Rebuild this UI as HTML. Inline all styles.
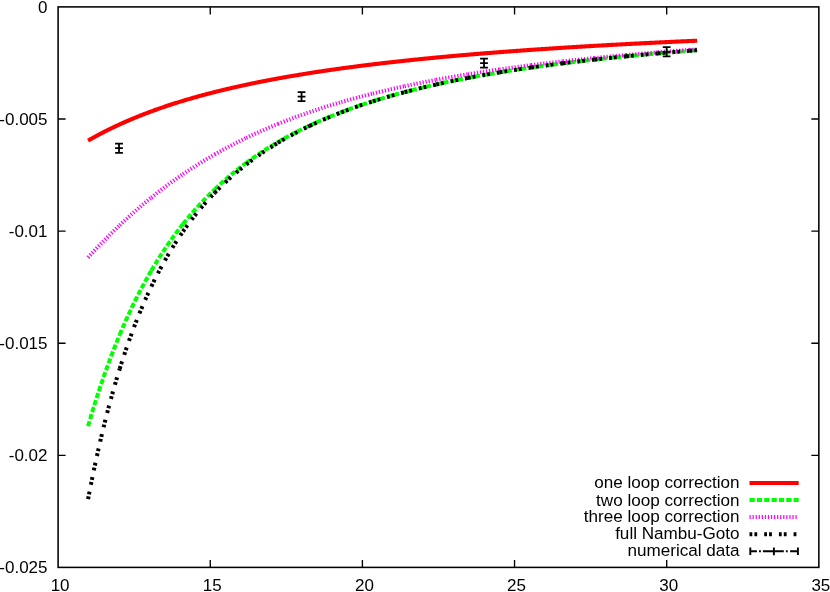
<!DOCTYPE html>
<html><head><meta charset="utf-8"><title>plot</title>
<style>html,body{margin:0;padding:0;background:#fff}svg{display:block}</style></head>
<body><svg width="830" height="592" viewBox="0 0 830 592">
<rect x="0" y="0" width="830" height="592" fill="#fff"/>
<path d="M88.07 140.63 L88.84 140.19 L89.60 139.76 L90.36 139.32 L91.12 138.89 L91.88 138.46 L92.65 138.04 L93.41 137.61 L94.17 137.19 L94.93 136.77 L95.70 136.36 L96.46 135.94 L97.22 135.53 L97.98 135.12 L98.75 134.72 L99.51 134.31 L100.27 133.91 L101.03 133.51 L101.79 133.11 L102.56 132.72 L103.32 132.32 L104.08 131.93 L104.84 131.54 L105.61 131.16 L106.37 130.77 L107.13 130.39 L107.89 130.01 L108.65 129.63 L109.42 129.26 L110.18 128.88 L110.94 128.51 L111.70 128.14 L112.47 127.77 L113.23 127.41 L113.99 127.05 L114.75 126.68 L115.52 126.32 L116.28 125.97 L117.04 125.61 L117.80 125.26 L118.56 124.91 L119.33 124.56 L120.09 124.21 L120.85 123.86 L121.61 123.52 L122.38 123.18 L123.14 122.83 L123.90 122.50 L124.66 122.16 L125.42 121.82 L126.19 121.49 L126.95 121.16 L127.71 120.83 L128.47 120.50 L129.24 120.17 L130.00 119.85 L130.76 119.53 L131.52 119.21 L132.29 118.89 L133.05 118.57 L133.81 118.25 L134.57 117.94 L135.33 117.62 L136.10 117.31 L136.86 117.00 L137.62 116.69 L138.38 116.39 L139.15 116.08 L139.91 115.78 L140.67 115.48 L141.43 115.18 L142.19 114.88 L142.96 114.58 L143.72 114.28 L144.48 113.99 L145.24 113.70 L146.01 113.40 L146.77 113.11 L147.53 112.83 L148.29 112.54 L149.06 112.25 L149.82 111.97 L150.58 111.68 L151.34 111.40 L152.10 111.12 L152.87 110.84 L153.63 110.57 L154.39 110.29 L155.15 110.02 L155.92 109.74 L156.68 109.47 L157.44 109.20 L158.20 108.93 L158.96 108.66 L159.73 108.40 L160.49 108.13 L161.25 107.87 L162.01 107.60 L162.78 107.34 L163.54 107.08 L164.30 106.82 L165.06 106.56 L165.83 106.31 L166.59 106.05 L167.35 105.80 L168.11 105.54 L168.87 105.29 L169.64 105.04 L170.40 104.79 L171.16 104.54 L171.92 104.29 L172.69 104.05 L173.45 103.80 L174.21 103.56 L174.97 103.32 L175.73 103.07 L176.50 102.83 L177.26 102.60 L178.02 102.36 L178.78 102.12 L179.55 101.88 L180.31 101.65 L181.07 101.41 L181.83 101.18 L182.60 100.95 L183.36 100.72 L184.12 100.49 L184.88 100.26 L185.64 100.03 L186.41 99.81 L187.17 99.58 L187.93 99.36 L188.69 99.13 L189.46 98.91 L190.22 98.69 L190.98 98.47 L191.74 98.25 L192.51 98.03 L193.27 97.81 L194.03 97.59 L194.79 97.38 L195.55 97.16 L196.32 96.95 L197.08 96.74 L197.84 96.52 L198.60 96.31 L199.37 96.10 L200.13 95.89 L200.89 95.68 L201.65 95.48 L202.41 95.27 L203.18 95.06 L203.94 94.86 L204.70 94.66 L205.46 94.45 L206.23 94.25 L206.99 94.05 L207.75 93.85 L208.51 93.65 L209.28 93.45 L210.04 93.25 L210.80 93.06 L211.56 92.86 L212.32 92.66 L213.09 92.47 L213.85 92.28 L214.61 92.08 L215.37 91.89 L216.14 91.70 L216.90 91.51 L217.66 91.32 L218.42 91.13 L219.18 90.94 L219.95 90.75 L220.71 90.57 L221.47 90.38 L222.23 90.20 L223.00 90.01 L223.76 89.83 L224.52 89.65 L225.28 89.46 L226.05 89.28 L226.81 89.10 L227.57 88.92 L228.33 88.74 L229.09 88.56 L229.86 88.39 L230.62 88.21 L231.38 88.03 L232.14 87.86 L232.91 87.68 L233.67 87.51 L234.43 87.33 L235.19 87.16 L235.95 86.99 L236.72 86.82 L237.48 86.65 L238.24 86.48 L239.00 86.31 L239.77 86.14 L240.53 85.97 L241.29 85.80 L242.05 85.64 L242.82 85.47 L243.58 85.31 L244.34 85.14 L245.10 84.98 L245.86 84.81 L246.63 84.65 L247.39 84.49 L248.15 84.33 L248.91 84.17 L249.68 84.01 L250.44 83.85 L251.20 83.69 L251.96 83.53 L252.72 83.37 L253.49 83.21 L254.25 83.06 L255.01 82.90 L255.77 82.74 L256.54 82.59 L257.30 82.44 L258.06 82.28 L258.82 82.13 L259.59 81.98 L260.35 81.82 L261.11 81.67 L261.87 81.52 L262.63 81.37 L263.40 81.22 L264.16 81.07 L264.92 80.92 L265.68 80.78 L266.45 80.63 L267.21 80.48 L267.97 80.34 L268.73 80.19 L269.49 80.05 L270.26 79.90 L271.02 79.76 L271.78 79.61 L272.54 79.47 L273.31 79.33 L274.07 79.18 L274.83 79.04 L275.59 78.90 L276.36 78.76 L277.12 78.62 L277.88 78.48 L278.64 78.34 L279.40 78.20 L280.17 78.07 L280.93 77.93 L281.69 77.79 L282.45 77.66 L283.22 77.52 L283.98 77.38 L284.74 77.25 L285.50 77.11 L286.26 76.98 L287.03 76.85 L287.79 76.71 L288.55 76.58 L289.31 76.45 L290.08 76.32 L290.84 76.19 L291.60 76.06 L292.36 75.92 L293.13 75.79 L293.89 75.67 L294.65 75.54 L295.41 75.41 L296.17 75.28 L296.94 75.15 L297.70 75.03 L298.46 74.90 L299.22 74.77 L299.99 74.65 L300.75 74.52 L301.51 74.40 L302.27 74.27 L303.03 74.15 L303.80 74.02 L304.56 73.90 L305.32 73.78 L306.08 73.66 L306.85 73.53 L307.61 73.41 L308.37 73.29 L309.13 73.17 L309.90 73.05 L310.66 72.93 L311.42 72.81 L312.18 72.69 L312.94 72.57 L313.71 72.45 L314.47 72.34 L315.23 72.22 L315.99 72.10 L316.76 71.99 L317.52 71.87 L318.28 71.75 L319.04 71.64 L319.80 71.52 L320.57 71.41 L321.33 71.29 L322.09 71.18 L322.85 71.07 L323.62 70.95 L324.38 70.84 L325.14 70.73 L325.90 70.62 L326.67 70.50 L327.43 70.39 L328.19 70.28 L328.95 70.17 L329.71 70.06 L330.48 69.95 L331.24 69.84 L332.00 69.73 L332.76 69.62 L333.53 69.51 L334.29 69.41 L335.05 69.30 L335.81 69.19 L336.57 69.08 L337.34 68.98 L338.10 68.87 L338.86 68.77 L339.62 68.66 L340.39 68.55 L341.15 68.45 L341.91 68.34 L342.67 68.24 L343.44 68.14 L344.20 68.03 L344.96 67.93 L345.72 67.83 L346.48 67.72 L347.25 67.62 L348.01 67.52 L348.77 67.42 L349.53 67.32 L350.30 67.21 L351.06 67.11 L351.82 67.01 L352.58 66.91 L353.34 66.81 L354.11 66.71 L354.87 66.62 L355.63 66.52 L356.39 66.42 L357.16 66.32 L357.92 66.22 L358.68 66.12 L359.44 66.03 L360.21 65.93 L360.97 65.83 L361.73 65.74 L362.49 65.64 L363.25 65.54 L364.02 65.45 L364.78 65.35 L365.54 65.26 L366.30 65.16 L367.07 65.07 L367.83 64.98 L368.59 64.88 L369.35 64.79 L370.11 64.70 L370.88 64.60 L371.64 64.51 L372.40 64.42 L373.16 64.32 L373.93 64.23 L374.69 64.14 L375.45 64.05 L376.21 63.96 L376.98 63.87 L377.74 63.78 L378.50 63.69 L379.26 63.60 L380.02 63.51 L380.79 63.42 L381.55 63.33 L382.31 63.24 L383.07 63.15 L383.84 63.06 L384.60 62.98 L385.36 62.89 L386.12 62.80 L386.88 62.71 L387.65 62.63 L388.41 62.54 L389.17 62.45 L389.93 62.37 L390.70 62.28 L391.46 62.20 L392.22 62.11 L392.98 62.02 L393.75 61.94 L394.51 61.85 L395.27 61.77 L396.03 61.69 L396.79 61.60 L397.56 61.52 L398.32 61.43 L399.08 61.35 L399.84 61.27 L400.61 61.19 L401.37 61.10 L402.13 61.02 L402.89 60.94 L403.65 60.86 L404.42 60.78 L405.18 60.69 L405.94 60.61 L406.70 60.53 L407.47 60.45 L408.23 60.37 L408.99 60.29 L409.75 60.21 L410.52 60.13 L411.28 60.05 L412.04 59.97 L412.80 59.89 L413.56 59.81 L414.33 59.74 L415.09 59.66 L415.85 59.58 L416.61 59.50 L417.38 59.42 L418.14 59.35 L418.90 59.27 L419.66 59.19 L420.42 59.11 L421.19 59.04 L421.95 58.96 L422.71 58.89 L423.47 58.81 L424.24 58.73 L425.00 58.66 L425.76 58.58 L426.52 58.51 L427.29 58.43 L428.05 58.36 L428.81 58.28 L429.57 58.21 L430.33 58.13 L431.10 58.06 L431.86 57.99 L432.62 57.91 L433.38 57.84 L434.15 57.77 L434.91 57.69 L435.67 57.62 L436.43 57.55 L437.19 57.48 L437.96 57.40 L438.72 57.33 L439.48 57.26 L440.24 57.19 L441.01 57.12 L441.77 57.05 L442.53 56.97 L443.29 56.90 L444.06 56.83 L444.82 56.76 L445.58 56.69 L446.34 56.62 L447.10 56.55 L447.87 56.48 L448.63 56.41 L449.39 56.34 L450.15 56.28 L450.92 56.21 L451.68 56.14 L452.44 56.07 L453.20 56.00 L453.96 55.93 L454.73 55.86 L455.49 55.80 L456.25 55.73 L457.01 55.66 L457.78 55.59 L458.54 55.53 L459.30 55.46 L460.06 55.39 L460.83 55.33 L461.59 55.26 L462.35 55.19 L463.11 55.13 L463.87 55.06 L464.64 55.00 L465.40 54.93 L466.16 54.86 L466.92 54.80 L467.69 54.73 L468.45 54.67 L469.21 54.61 L469.97 54.54 L470.73 54.48 L471.50 54.41 L472.26 54.35 L473.02 54.28 L473.78 54.22 L474.55 54.16 L475.31 54.09 L476.07 54.03 L476.83 53.97 L477.60 53.90 L478.36 53.84 L479.12 53.78 L479.88 53.72 L480.64 53.65 L481.41 53.59 L482.17 53.53 L482.93 53.47 L483.69 53.41 L484.46 53.34 L485.22 53.28 L485.98 53.22 L486.74 53.16 L487.50 53.10 L488.27 53.04 L489.03 52.98 L489.79 52.92 L490.55 52.86 L491.32 52.80 L492.08 52.74 L492.84 52.68 L493.60 52.62 L494.37 52.56 L495.13 52.50 L495.89 52.44 L496.65 52.38 L497.41 52.32 L498.18 52.26 L498.94 52.21 L499.70 52.15 L500.46 52.09 L501.23 52.03 L501.99 51.97 L502.75 51.91 L503.51 51.86 L504.27 51.80 L505.04 51.74 L505.80 51.68 L506.56 51.63 L507.32 51.57 L508.09 51.51 L508.85 51.46 L509.61 51.40 L510.37 51.34 L511.14 51.29 L511.90 51.23 L512.66 51.17 L513.42 51.12 L514.18 51.06 L514.95 51.01 L515.71 50.95 L516.47 50.90 L517.23 50.84 L518.00 50.78 L518.76 50.73 L519.52 50.67 L520.28 50.62 L521.04 50.57 L521.81 50.51 L522.57 50.46 L523.33 50.40 L524.09 50.35 L524.86 50.29 L525.62 50.24 L526.38 50.19 L527.14 50.13 L527.91 50.08 L528.67 50.03 L529.43 49.97 L530.19 49.92 L530.95 49.87 L531.72 49.81 L532.48 49.76 L533.24 49.71 L534.00 49.66 L534.77 49.60 L535.53 49.55 L536.29 49.50 L537.05 49.45 L537.81 49.40 L538.58 49.34 L539.34 49.29 L540.10 49.24 L540.86 49.19 L541.63 49.14 L542.39 49.09 L543.15 49.04 L543.91 48.98 L544.68 48.93 L545.44 48.88 L546.20 48.83 L546.96 48.78 L547.72 48.73 L548.49 48.68 L549.25 48.63 L550.01 48.58 L550.77 48.53 L551.54 48.48 L552.30 48.43 L553.06 48.38 L553.82 48.33 L554.58 48.28 L555.35 48.24 L556.11 48.19 L556.87 48.14 L557.63 48.09 L558.40 48.04 L559.16 47.99 L559.92 47.94 L560.68 47.89 L561.45 47.85 L562.21 47.80 L562.97 47.75 L563.73 47.70 L564.49 47.65 L565.26 47.61 L566.02 47.56 L566.78 47.51 L567.54 47.46 L568.31 47.42 L569.07 47.37 L569.83 47.32 L570.59 47.27 L571.35 47.23 L572.12 47.18 L572.88 47.13 L573.64 47.09 L574.40 47.04 L575.17 46.99 L575.93 46.95 L576.69 46.90 L577.45 46.86 L578.22 46.81 L578.98 46.76 L579.74 46.72 L580.50 46.67 L581.26 46.63 L582.03 46.58 L582.79 46.54 L583.55 46.49 L584.31 46.45 L585.08 46.40 L585.84 46.36 L586.60 46.31 L587.36 46.27 L588.12 46.22 L588.89 46.18 L589.65 46.13 L590.41 46.09 L591.17 46.04 L591.94 46.00 L592.70 45.96 L593.46 45.91 L594.22 45.87 L594.99 45.82 L595.75 45.78 L596.51 45.74 L597.27 45.69 L598.03 45.65 L598.80 45.61 L599.56 45.56 L600.32 45.52 L601.08 45.48 L601.85 45.43 L602.61 45.39 L603.37 45.35 L604.13 45.31 L604.89 45.26 L605.66 45.22 L606.42 45.18 L607.18 45.14 L607.94 45.09 L608.71 45.05 L609.47 45.01 L610.23 44.97 L610.99 44.92 L611.76 44.88 L612.52 44.84 L613.28 44.80 L614.04 44.76 L614.80 44.72 L615.57 44.68 L616.33 44.63 L617.09 44.59 L617.85 44.55 L618.62 44.51 L619.38 44.47 L620.14 44.43 L620.90 44.39 L621.66 44.35 L622.43 44.31 L623.19 44.27 L623.95 44.23 L624.71 44.19 L625.48 44.15 L626.24 44.11 L627.00 44.07 L627.76 44.03 L628.53 43.99 L629.29 43.95 L630.05 43.91 L630.81 43.87 L631.57 43.83 L632.34 43.79 L633.10 43.75 L633.86 43.71 L634.62 43.67 L635.39 43.63 L636.15 43.59 L636.91 43.55 L637.67 43.51 L638.43 43.47 L639.20 43.44 L639.96 43.40 L640.72 43.36 L641.48 43.32 L642.25 43.28 L643.01 43.24 L643.77 43.20 L644.53 43.17 L645.30 43.13 L646.06 43.09 L646.82 43.05 L647.58 43.01 L648.34 42.98 L649.11 42.94 L649.87 42.90 L650.63 42.86 L651.39 42.83 L652.16 42.79 L652.92 42.75 L653.68 42.71 L654.44 42.68 L655.20 42.64 L655.97 42.60 L656.73 42.56 L657.49 42.53 L658.25 42.49 L659.02 42.45 L659.78 42.42 L660.54 42.38 L661.30 42.34 L662.07 42.31 L662.83 42.27 L663.59 42.23 L664.35 42.20 L665.11 42.16 L665.88 42.13 L666.64 42.09 L667.40 42.05 L668.16 42.02 L668.93 41.98 L669.69 41.95 L670.45 41.91 L671.21 41.88 L671.97 41.84 L672.74 41.80 L673.50 41.77 L674.26 41.73 L675.02 41.70 L675.79 41.66 L676.55 41.63 L677.31 41.59 L678.07 41.56 L678.84 41.52 L679.60 41.49 L680.36 41.45 L681.12 41.42 L681.88 41.38 L682.65 41.35 L683.41 41.31 L684.17 41.28 L684.93 41.25 L685.70 41.21 L686.46 41.18 L687.22 41.14 L687.98 41.11 L688.74 41.07 L689.51 41.04 L690.27 41.01 L691.03 40.97 L691.79 40.94 L692.56 40.90 L693.32 40.87 L694.08 40.84 L694.84 40.80 L695.61 40.77 L696.37 40.74 L697.13 40.70" fill="none" stroke="#ff0000" stroke-width="4.1"/>
<path d="M88.07 426.19 L88.86 423.46 L89.66 420.75 L90.45 418.07 L91.24 415.41 L92.03 412.78 L92.82 410.18 L93.61 407.60 L94.40 405.05 L95.19 402.52 L95.99 400.01 L96.78 397.53 L97.57 395.07 L98.36 392.64 L99.15 390.22 L99.94 387.83 L100.73 385.47 L101.52 383.12 L102.31 380.80 L103.11 378.50 L103.90 376.22 L104.69 373.96 L105.48 371.72 L106.27 369.50 L107.06 367.31 L107.85 365.13 L108.64 362.97 L109.44 360.84 L110.23 358.72 L111.02 356.62 L111.81 354.54 L112.60 352.48 L113.39 350.44 L114.18 348.41 L114.97 346.41 L115.76 344.42 L116.56 342.45 L117.35 340.50 L118.14 338.56 L118.93 336.64 L119.72 334.74" fill="none" stroke="#00ff00" stroke-width="4.0" stroke-dasharray="5.2 2.15"/>
<path d="M119.72 334.74 L120.51 332.86 L121.30 330.99 L122.09 329.14 L122.89 327.30 L123.68 325.48 L124.47 323.68 L125.26 321.89 L126.05 320.12 L126.84 318.36 L127.63 316.62 L128.42 314.89 L129.21 313.18 L130.01 311.48 L130.80 309.79 L131.59 308.12 L132.38 306.47 L133.17 304.83 L133.96 303.20 L134.75 301.59 L135.54 299.99 L136.34 298.40 L137.13 296.83 L137.92 295.27 L138.71 293.72 L139.50 292.18 L140.29 290.66 L141.08 289.15 L141.87 287.66 L142.66 286.17 L143.46 284.70 L144.25 283.24 L145.04 281.79 L145.83 280.35 L146.62 278.93 L147.41 277.51 L148.20 276.11 L148.99 274.72 L149.79 273.34 L150.58 271.97 L151.37 270.61" fill="none" stroke="#00ff00" stroke-width="4.0" stroke-dasharray="5.2 2.15"/>
<path d="M151.37 270.61 L152.16 269.26 L152.95 267.93 L153.74 266.60 L154.53 265.29 L155.32 263.98 L156.12 262.69 L156.91 261.40 L157.70 260.13 L158.49 258.86 L159.28 257.61 L160.07 256.36 L160.86 255.13 L161.65 253.90 L162.44 252.69 L163.24 251.48 L164.03 250.28 L164.82 249.09 L165.61 247.91 L166.40 246.74 L167.19 245.58 L167.98 244.43 L168.77 243.29 L169.57 242.15 L170.36 241.03 L171.15 239.91 L171.94 238.80 L172.73 237.70 L173.52 236.60 L174.31 235.52 L175.10 234.44 L175.89 233.37 L176.69 232.31 L177.48 231.26 L178.27 230.21 L179.06 229.18 L179.85 228.15 L180.64 227.12 L181.43 226.11 L182.22 225.10 L183.02 224.10" fill="none" stroke="#00ff00" stroke-width="4.0" stroke-dasharray="5.2 2.15"/>
<path d="M183.02 224.10 L183.81 223.11 L184.60 222.12 L185.39 221.14 L186.18 220.17 L186.97 219.21 L187.76 218.25 L188.55 217.30 L189.34 216.35 L190.14 215.42 L190.93 214.49 L191.72 213.56 L192.51 212.64 L193.30 211.73 L194.09 210.83 L194.88 209.93 L195.67 209.04 L196.47 208.15 L197.26 207.27 L198.05 206.40 L198.84 205.53 L199.63 204.67 L200.42 203.82 L201.21 202.97 L202.00 202.13 L202.79 201.29 L203.59 200.46 L204.38 199.63 L205.17 198.81 L205.96 197.99 L206.75 197.19 L207.54 196.38 L208.33 195.58 L209.12 194.79 L209.92 194.00 L210.71 193.22 L211.50 192.44 L212.29 191.67 L213.08 190.91 L213.87 190.14 L214.66 189.39" fill="none" stroke="#00ff00" stroke-width="4.0" stroke-dasharray="5.2 2.15"/>
<path d="M214.66 189.39 L215.45 188.64 L216.24 187.89 L217.04 187.15 L217.83 186.41 L218.62 185.68 L219.41 184.95 L220.20 184.23 L220.99 183.51 L221.78 182.80 L222.57 182.09 L223.37 181.39 L224.16 180.69 L224.95 180.00 L225.74 179.31 L226.53 178.62 L227.32 177.94 L228.11 177.26 L228.90 176.59 L229.69 175.93 L230.49 175.26 L231.28 174.60 L232.07 173.95 L232.86 173.30 L233.65 172.65 L234.44 172.01 L235.23 171.37 L236.02 170.73 L236.82 170.10 L237.61 169.48 L238.40 168.85 L239.19 168.24 L239.98 167.62 L240.77 167.01 L241.56 166.40 L242.35 165.80 L243.14 165.20 L243.94 164.60 L244.73 164.01 L245.52 163.42 L246.31 162.84" fill="none" stroke="#00ff00" stroke-width="4.0" stroke-dasharray="5.2 2.15"/>
<path d="M246.31 162.84 L247.10 162.25 L247.89 161.68 L248.68 161.10 L249.47 160.53 L250.27 159.96 L251.06 159.40 L251.85 158.84 L252.64 158.28 L253.43 157.73 L254.22 157.18 L255.01 156.63 L255.80 156.09 L256.59 155.55 L257.39 155.01 L258.18 154.47 L258.97 153.94 L259.76 153.42 L260.55 152.89 L261.34 152.37 L262.13 151.85 L262.92 151.34 L263.72 150.82 L264.51 150.31 L265.30 149.81 L266.09 149.30 L266.88 148.80 L267.67 148.31 L268.46 147.81 L269.25 147.32 L270.04 146.83 L270.84 146.34 L271.63 145.86 L272.42 145.38 L273.21 144.90 L274.00 144.43 L274.79 143.95 L275.58 143.49 L276.37 143.02 L277.17 142.55 L277.96 142.09" fill="none" stroke="#00ff00" stroke-width="4.0" stroke-dasharray="5.2 2.15"/>
<path d="M277.96 142.09 L278.75 141.63 L279.54 141.18 L280.33 140.72 L281.12 140.27 L281.91 139.82 L282.70 139.38 L283.50 138.93 L284.29 138.49 L285.08 138.05 L285.87 137.62 L286.66 137.18 L287.45 136.75 L288.24 136.32 L289.03 135.90 L289.82 135.47 L290.62 135.05 L291.41 134.63 L292.20 134.21 L292.99 133.80 L293.78 133.38 L294.57 132.97 L295.36 132.57 L296.15 132.16 L296.95 131.76 L297.74 131.35 L298.53 130.95 L299.32 130.56 L300.11 130.16 L300.90 129.77 L301.69 129.38 L302.48 128.99 L303.27 128.60 L304.07 128.22 L304.86 127.84 L305.65 127.45 L306.44 127.08 L307.23 126.70 L308.02 126.32 L308.81 125.95 L309.60 125.58" fill="none" stroke="#00ff00" stroke-width="4.0" stroke-dasharray="5.2 2.15"/>
<path d="M309.60 125.58 L310.40 125.21 L311.19 124.85 L311.98 124.48 L312.77 124.12 L313.56 123.76 L314.35 123.40 L315.14 123.04 L315.93 122.69 L316.72 122.33 L317.52 121.98 L318.31 121.63 L319.10 121.28 L319.89 120.94 L320.68 120.59 L321.47 120.25 L322.26 119.91 L323.05 119.57 L323.85 119.23 L324.64 118.90 L325.43 118.56 L326.22 118.23 L327.01 117.90 L327.80 117.57 L328.59 117.24 L329.38 116.92 L330.17 116.59 L330.97 116.27 L331.76 115.95 L332.55 115.63 L333.34 115.31 L334.13 115.00 L334.92 114.68 L335.71 114.37 L336.50 114.06 L337.30 113.75 L338.09 113.44 L338.88 113.13 L339.67 112.83 L340.46 112.53 L341.25 112.22" fill="none" stroke="#00ff00" stroke-width="4.0" stroke-dasharray="5.2 2.15"/>
<path d="M341.25 112.22 L342.04 111.92 L342.83 111.62 L343.62 111.33 L344.42 111.03 L345.21 110.73 L346.00 110.44 L346.79 110.15 L347.58 109.86 L348.37 109.57 L349.16 109.28 L349.95 109.00 L350.75 108.71 L351.54 108.43 L352.33 108.15 L353.12 107.86 L353.91 107.58 L354.70 107.31 L355.49 107.03 L356.28 106.75 L357.07 106.48 L357.87 106.21 L358.66 105.94 L359.45 105.67 L360.24 105.40 L361.03 105.13 L361.82 104.86 L362.61 104.60 L363.40 104.33 L364.20 104.07 L364.99 103.81 L365.78 103.55 L366.57 103.29 L367.36 103.03 L368.15 102.77 L368.94 102.52 L369.73 102.26 L370.52 102.01 L371.32 101.76 L372.11 101.51 L372.90 101.26" fill="none" stroke="#00ff00" stroke-width="4.0" stroke-dasharray="5.2 2.15"/>
<path d="M372.90 101.26 L373.69 101.01 L374.48 100.76 L375.27 100.52 L376.06 100.27 L376.85 100.03 L377.65 99.78 L378.44 99.54 L379.23 99.30 L380.02 99.06 L380.81 98.82 L381.60 98.59 L382.39 98.35 L383.18 98.11 L383.97 97.88 L384.77 97.65 L385.56 97.42 L386.35 97.18 L387.14 96.95 L387.93 96.73 L388.72 96.50 L389.51 96.27 L390.30 96.04 L391.10 95.82 L391.89 95.60 L392.68 95.37 L393.47 95.15 L394.26 94.93 L395.05 94.71 L395.84 94.49 L396.63 94.27 L397.42 94.05 L398.22 93.84 L399.01 93.62 L399.80 93.41 L400.59 93.20 L401.38 92.98 L402.17 92.77 L402.96 92.56 L403.75 92.35 L404.55 92.14" fill="none" stroke="#00ff00" stroke-width="4.0" stroke-dasharray="5.2 2.15"/>
<path d="M404.55 92.14 L405.34 91.93 L406.13 91.73 L406.92 91.52 L407.71 91.32 L408.50 91.11 L409.29 90.91 L410.08 90.70 L410.87 90.50 L411.67 90.30 L412.46 90.10 L413.25 89.90 L414.04 89.70 L414.83 89.51 L415.62 89.31 L416.41 89.11 L417.20 88.92 L418.00 88.72 L418.79 88.53 L419.58 88.34 L420.37 88.15 L421.16 87.96 L421.95 87.77 L422.74 87.58 L423.53 87.39 L424.33 87.20 L425.12 87.01 L425.91 86.83 L426.70 86.64 L427.49 86.46 L428.28 86.27 L429.07 86.09 L429.86 85.91 L430.65 85.72 L431.45 85.54 L432.24 85.36 L433.03 85.18 L433.82 85.01 L434.61 84.83 L435.40 84.65 L436.19 84.47" fill="none" stroke="#00ff00" stroke-width="4.0" stroke-dasharray="5.2 2.15"/>
<path d="M436.19 84.47 L436.98 84.30 L437.78 84.12 L438.57 83.95 L439.36 83.77 L440.15 83.60 L440.94 83.43 L441.73 83.26 L442.52 83.09 L443.31 82.92 L444.10 82.75 L444.90 82.58 L445.69 82.41 L446.48 82.24 L447.27 82.07 L448.06 81.91 L448.85 81.74 L449.64 81.58 L450.43 81.41 L451.23 81.25 L452.02 81.09 L452.81 80.92 L453.60 80.76 L454.39 80.60 L455.18 80.44 L455.97 80.28 L456.76 80.12 L457.55 79.96 L458.35 79.80 L459.14 79.65 L459.93 79.49 L460.72 79.33 L461.51 79.18 L462.30 79.02 L463.09 78.87 L463.88 78.72 L464.68 78.56 L465.47 78.41 L466.26 78.26 L467.05 78.11 L467.84 77.96" fill="none" stroke="#00ff00" stroke-width="4.0" stroke-dasharray="5.2 2.15"/>
<path d="M467.84 77.96 L468.63 77.81 L469.42 77.66 L470.21 77.51 L471.00 77.36 L471.80 77.21 L472.59 77.06 L473.38 76.92 L474.17 76.77 L474.96 76.62 L475.75 76.48 L476.54 76.33 L477.33 76.19 L478.13 76.05 L478.92 75.90 L479.71 75.76 L480.50 75.62 L481.29 75.48 L482.08 75.34 L482.87 75.20 L483.66 75.06 L484.45 74.92 L485.25 74.78 L486.04 74.64 L486.83 74.50 L487.62 74.36 L488.41 74.23 L489.20 74.09 L489.99 73.96 L490.78 73.82 L491.58 73.69 L492.37 73.55 L493.16 73.42 L493.95 73.28 L494.74 73.15 L495.53 73.02 L496.32 72.89 L497.11 72.76 L497.90 72.62 L498.70 72.49 L499.49 72.36" fill="none" stroke="#00ff00" stroke-width="4.0" stroke-dasharray="5.2 2.15"/>
<path d="M499.49 72.36 L500.28 72.23 L501.07 72.11 L501.86 71.98 L502.65 71.85 L503.44 71.72 L504.23 71.59 L505.03 71.47 L505.82 71.34 L506.61 71.21 L507.40 71.09 L508.19 70.96 L508.98 70.84 L509.77 70.72 L510.56 70.59 L511.35 70.47 L512.15 70.35 L512.94 70.22 L513.73 70.10 L514.52 69.98 L515.31 69.86 L516.10 69.74 L516.89 69.62 L517.68 69.50 L518.48 69.38 L519.27 69.26 L520.06 69.14 L520.85 69.02 L521.64 68.91 L522.43 68.79 L523.22 68.67 L524.01 68.56 L524.80 68.44 L525.60 68.32 L526.39 68.21 L527.18 68.09 L527.97 67.98 L528.76 67.87 L529.55 67.75 L530.34 67.64 L531.13 67.53" fill="none" stroke="#00ff00" stroke-width="4.0" stroke-dasharray="5.2 2.15"/>
<path d="M531.13 67.53 L531.93 67.41 L532.72 67.30 L533.51 67.19 L534.30 67.08 L535.09 66.97 L535.88 66.86 L536.67 66.75 L537.46 66.64 L538.25 66.53 L539.05 66.42 L539.84 66.31 L540.63 66.20 L541.42 66.09 L542.21 65.98 L543.00 65.88 L543.79 65.77 L544.58 65.66 L545.38 65.56 L546.17 65.45 L546.96 65.35 L547.75 65.24 L548.54 65.14 L549.33 65.03 L550.12 64.93 L550.91 64.82 L551.71 64.72 L552.50 64.62 L553.29 64.51 L554.08 64.41 L554.87 64.31 L555.66 64.21 L556.45 64.11 L557.24 64.01 L558.03 63.90 L558.83 63.80 L559.62 63.70 L560.41 63.60 L561.20 63.50 L561.99 63.41 L562.78 63.31" fill="none" stroke="#00ff00" stroke-width="4.0" stroke-dasharray="5.2 2.15"/>
<path d="M562.78 63.31 L563.57 63.21 L564.36 63.11 L565.16 63.01 L565.95 62.91 L566.74 62.82 L567.53 62.72 L568.32 62.62 L569.11 62.53 L569.90 62.43 L570.69 62.34 L571.48 62.24 L572.28 62.15 L573.07 62.05 L573.86 61.96 L574.65 61.86 L575.44 61.77 L576.23 61.67 L577.02 61.58 L577.81 61.49 L578.61 61.40 L579.40 61.30 L580.19 61.21 L580.98 61.12 L581.77 61.03 L582.56 60.94 L583.35 60.85 L584.14 60.76 L584.93 60.66 L585.73 60.57 L586.52 60.48 L587.31 60.40 L588.10 60.31 L588.89 60.22 L589.68 60.13 L590.47 60.04 L591.26 59.95 L592.06 59.86 L592.85 59.78 L593.64 59.69 L594.43 59.60" fill="none" stroke="#00ff00" stroke-width="4.0" stroke-dasharray="5.2 2.15"/>
<path d="M594.43 59.60 L595.22 59.52 L596.01 59.43 L596.80 59.34 L597.59 59.26 L598.38 59.17 L599.18 59.09 L599.97 59.00 L600.76 58.91 L601.55 58.83 L602.34 58.75 L603.13 58.66 L603.92 58.58 L604.71 58.49 L605.51 58.41 L606.30 58.33 L607.09 58.24 L607.88 58.16 L608.67 58.08 L609.46 58.00 L610.25 57.92 L611.04 57.83 L611.83 57.75 L612.63 57.67 L613.42 57.59 L614.21 57.51 L615.00 57.43 L615.79 57.35 L616.58 57.27 L617.37 57.19 L618.16 57.11 L618.96 57.03 L619.75 56.95 L620.54 56.87 L621.33 56.79 L622.12 56.72 L622.91 56.64 L623.70 56.56 L624.49 56.48 L625.28 56.40 L626.08 56.33" fill="none" stroke="#00ff00" stroke-width="4.0" stroke-dasharray="5.2 2.15"/>
<path d="M626.08 56.33 L626.87 56.25 L627.66 56.17 L628.45 56.10 L629.24 56.02 L630.03 55.94 L630.82 55.87 L631.61 55.79 L632.41 55.72 L633.20 55.64 L633.99 55.57 L634.78 55.49 L635.57 55.42 L636.36 55.34 L637.15 55.27 L637.94 55.20 L638.73 55.12 L639.53 55.05 L640.32 54.98 L641.11 54.90 L641.90 54.83 L642.69 54.76 L643.48 54.69 L644.27 54.61 L645.06 54.54 L645.86 54.47 L646.65 54.40 L647.44 54.33 L648.23 54.25 L649.02 54.18 L649.81 54.11 L650.60 54.04 L651.39 53.97 L652.18 53.90 L652.98 53.83 L653.77 53.76 L654.56 53.69 L655.35 53.62 L656.14 53.55 L656.93 53.48 L657.72 53.42" fill="none" stroke="#00ff00" stroke-width="4.0" stroke-dasharray="5.2 2.15"/>
<path d="M657.72 53.42 L658.51 53.35 L659.31 53.28 L660.10 53.21 L660.89 53.14 L661.68 53.07 L662.47 53.01 L663.26 52.94 L664.05 52.87 L664.84 52.81 L665.63 52.74 L666.43 52.67 L667.22 52.61 L668.01 52.54 L668.80 52.47 L669.59 52.41 L670.38 52.34 L671.17 52.28 L671.96 52.21 L672.76 52.14 L673.55 52.08 L674.34 52.01 L675.13 51.95 L675.92 51.88 L676.71 51.82 L677.50 51.76 L678.29 51.69 L679.09 51.63 L679.88 51.56 L680.67 51.50 L681.46 51.44 L682.25 51.37 L683.04 51.31 L683.83 51.25 L684.62 51.19 L685.41 51.12 L686.21 51.06 L687.00 51.00 L687.79 50.94 L688.58 50.88 L689.37 50.81" fill="none" stroke="#00ff00" stroke-width="4.0" stroke-dasharray="5.2 2.15"/>
<path d="M689.37 50.81 L690.23 50.75 L691.09 50.68 L691.96 50.61 L692.82 50.55 L693.68 50.48 L694.54 50.41 L695.41 50.35 L696.27 50.28 L697.13 50.22" fill="none" stroke="#00ff00" stroke-width="4.0" stroke-dasharray="5.2 2.15"/>
<path d="M88.07 257.56 L88.86 256.69 L89.66 255.82 L90.45 254.96 L91.24 254.10 L92.03 253.24 L92.82 252.39 L93.61 251.54 L94.40 250.69 L95.19 249.85 L95.99 249.01 L96.78 248.17 L97.57 247.33 L98.36 246.50 L99.15 245.67 L99.94 244.85 L100.73 244.03 L101.52 243.21 L102.31 242.39 L103.11 241.58 L103.90 240.77 L104.69 239.96 L105.48 239.16 L106.27 238.36 L107.06 237.56 L107.85 236.77 L108.64 235.98 L109.44 235.19 L110.23 234.40 L111.02 233.62 L111.81 232.84 L112.60 232.07 L113.39 231.29 L114.18 230.52 L114.97 229.76 L115.76 228.99 L116.56 228.23 L117.35 227.47 L118.14 226.72 L118.93 225.96 L119.72 225.22" fill="none" stroke="#ff00ff" stroke-width="4.0" stroke-dasharray="1.225 1.838"/>
<path d="M119.72 225.22 L120.51 224.47 L121.30 223.73 L122.09 222.98 L122.89 222.25 L123.68 221.51 L124.47 220.78 L125.26 220.05 L126.05 219.33 L126.84 218.60 L127.63 217.88 L128.42 217.16 L129.21 216.45 L130.01 215.74 L130.80 215.03 L131.59 214.32 L132.38 213.62 L133.17 212.92 L133.96 212.22 L134.75 211.53 L135.54 210.83 L136.34 210.15 L137.13 209.46 L137.92 208.78 L138.71 208.10 L139.50 207.42 L140.29 206.74 L141.08 206.07 L141.87 205.40 L142.66 204.73 L143.46 204.07 L144.25 203.41 L145.04 202.75 L145.83 202.09 L146.62 201.44 L147.41 200.79 L148.20 200.14 L148.99 199.49 L149.79 198.85 L150.58 198.21 L151.37 197.57" fill="none" stroke="#ff00ff" stroke-width="4.0" stroke-dasharray="1.225 1.838"/>
<path d="M151.37 197.57 L152.16 196.94 L152.95 196.31 L153.74 195.68 L154.53 195.05 L155.32 194.43 L156.12 193.81 L156.91 193.19 L157.70 192.57 L158.49 191.96 L159.28 191.35 L160.07 190.74 L160.86 190.13 L161.65 189.53 L162.44 188.93 L163.24 188.33 L164.03 187.73 L164.82 187.14 L165.61 186.55 L166.40 185.96 L167.19 185.37 L167.98 184.79 L168.77 184.21 L169.57 183.63 L170.36 183.06 L171.15 182.48 L171.94 181.91 L172.73 181.34 L173.52 180.78 L174.31 180.21 L175.10 179.65 L175.89 179.09 L176.69 178.54 L177.48 177.98 L178.27 177.43 L179.06 176.88 L179.85 176.33 L180.64 175.79 L181.43 175.25 L182.22 174.71 L183.02 174.17" fill="none" stroke="#ff00ff" stroke-width="4.0" stroke-dasharray="1.225 1.838"/>
<path d="M183.02 174.17 L183.81 173.63 L184.60 173.10 L185.39 172.57 L186.18 172.04 L186.97 171.51 L187.76 170.99 L188.55 170.47 L189.34 169.95 L190.14 169.43 L190.93 168.92 L191.72 168.40 L192.51 167.89 L193.30 167.38 L194.09 166.88 L194.88 166.37 L195.67 165.87 L196.47 165.37 L197.26 164.88 L198.05 164.38 L198.84 163.89 L199.63 163.40 L200.42 162.91 L201.21 162.42 L202.00 161.94 L202.79 161.45 L203.59 160.97 L204.38 160.49 L205.17 160.02 L205.96 159.54 L206.75 159.07 L207.54 158.60 L208.33 158.13 L209.12 157.67 L209.92 157.20 L210.71 156.74 L211.50 156.28 L212.29 155.82 L213.08 155.37 L213.87 154.91 L214.66 154.46" fill="none" stroke="#ff00ff" stroke-width="4.0" stroke-dasharray="1.225 1.838"/>
<path d="M214.66 154.46 L215.45 154.01 L216.24 153.56 L217.04 153.12 L217.83 152.67 L218.62 152.23 L219.41 151.79 L220.20 151.35 L220.99 150.91 L221.78 150.48 L222.57 150.05 L223.37 149.62 L224.16 149.19 L224.95 148.76 L225.74 148.33 L226.53 147.91 L227.32 147.49 L228.11 147.07 L228.90 146.65 L229.69 146.23 L230.49 145.82 L231.28 145.41 L232.07 145.00 L232.86 144.59 L233.65 144.18 L234.44 143.77 L235.23 143.37 L236.02 142.97 L236.82 142.57 L237.61 142.17 L238.40 141.77 L239.19 141.38 L239.98 140.98 L240.77 140.59 L241.56 140.20 L242.35 139.81 L243.14 139.42 L243.94 139.04 L244.73 138.66 L245.52 138.27 L246.31 137.89" fill="none" stroke="#ff00ff" stroke-width="4.0" stroke-dasharray="1.225 1.838"/>
<path d="M246.31 137.89 L247.10 137.51 L247.89 137.14 L248.68 136.76 L249.47 136.39 L250.27 136.02 L251.06 135.65 L251.85 135.28 L252.64 134.91 L253.43 134.54 L254.22 134.18 L255.01 133.82 L255.80 133.46 L256.59 133.10 L257.39 132.74 L258.18 132.38 L258.97 132.03 L259.76 131.67 L260.55 131.32 L261.34 130.97 L262.13 130.62 L262.92 130.27 L263.72 129.93 L264.51 129.58 L265.30 129.24 L266.09 128.90 L266.88 128.56 L267.67 128.22 L268.46 127.88 L269.25 127.54 L270.04 127.21 L270.84 126.88 L271.63 126.54 L272.42 126.21 L273.21 125.89 L274.00 125.56 L274.79 125.23 L275.58 124.91 L276.37 124.58 L277.17 124.26 L277.96 123.94" fill="none" stroke="#ff00ff" stroke-width="4.0" stroke-dasharray="1.225 1.838"/>
<path d="M277.96 123.94 L278.75 123.62 L279.54 123.30 L280.33 122.99 L281.12 122.67 L281.91 122.36 L282.70 122.04 L283.50 121.73 L284.29 121.42 L285.08 121.11 L285.87 120.80 L286.66 120.50 L287.45 120.19 L288.24 119.89 L289.03 119.59 L289.82 119.29 L290.62 118.99 L291.41 118.69 L292.20 118.39 L292.99 118.09 L293.78 117.80 L294.57 117.50 L295.36 117.21 L296.15 116.92 L296.95 116.63 L297.74 116.34 L298.53 116.05 L299.32 115.77 L300.11 115.48 L300.90 115.20 L301.69 114.91 L302.48 114.63 L303.27 114.35 L304.07 114.07 L304.86 113.79 L305.65 113.51 L306.44 113.24 L307.23 112.96 L308.02 112.69 L308.81 112.42 L309.60 112.14" fill="none" stroke="#ff00ff" stroke-width="4.0" stroke-dasharray="1.225 1.838"/>
<path d="M309.60 112.14 L310.40 111.87 L311.19 111.60 L311.98 111.33 L312.77 111.07 L313.56 110.80 L314.35 110.54 L315.14 110.27 L315.93 110.01 L316.72 109.75 L317.52 109.48 L318.31 109.22 L319.10 108.97 L319.89 108.71 L320.68 108.45 L321.47 108.19 L322.26 107.94 L323.05 107.69 L323.85 107.43 L324.64 107.18 L325.43 106.93 L326.22 106.68 L327.01 106.43 L327.80 106.18 L328.59 105.94 L329.38 105.69 L330.17 105.45 L330.97 105.20 L331.76 104.96 L332.55 104.72 L333.34 104.48 L334.13 104.24 L334.92 104.00 L335.71 103.76 L336.50 103.52 L337.30 103.29 L338.09 103.05 L338.88 102.82 L339.67 102.58 L340.46 102.35 L341.25 102.12" fill="none" stroke="#ff00ff" stroke-width="4.0" stroke-dasharray="1.225 1.838"/>
<path d="M341.25 102.12 L342.04 101.89 L342.83 101.66 L343.62 101.43 L344.42 101.20 L345.21 100.97 L346.00 100.75 L346.79 100.52 L347.58 100.30 L348.37 100.08 L349.16 99.85 L349.95 99.63 L350.75 99.41 L351.54 99.19 L352.33 98.97 L353.12 98.75 L353.91 98.53 L354.70 98.32 L355.49 98.10 L356.28 97.89 L357.07 97.67 L357.87 97.46 L358.66 97.25 L359.45 97.03 L360.24 96.82 L361.03 96.61 L361.82 96.40 L362.61 96.19 L363.40 95.99 L364.20 95.78 L364.99 95.57 L365.78 95.37 L366.57 95.16 L367.36 94.96 L368.15 94.76 L368.94 94.55 L369.73 94.35 L370.52 94.15 L371.32 93.95 L372.11 93.75 L372.90 93.55" fill="none" stroke="#ff00ff" stroke-width="4.0" stroke-dasharray="1.225 1.838"/>
<path d="M372.90 93.55 L373.69 93.36 L374.48 93.16 L375.27 92.96 L376.06 92.77 L376.85 92.57 L377.65 92.38 L378.44 92.19 L379.23 91.99 L380.02 91.80 L380.81 91.61 L381.60 91.42 L382.39 91.23 L383.18 91.04 L383.97 90.85 L384.77 90.66 L385.56 90.48 L386.35 90.29 L387.14 90.11 L387.93 89.92 L388.72 89.74 L389.51 89.55 L390.30 89.37 L391.10 89.19 L391.89 89.01 L392.68 88.82 L393.47 88.64 L394.26 88.47 L395.05 88.29 L395.84 88.11 L396.63 87.93 L397.42 87.75 L398.22 87.58 L399.01 87.40 L399.80 87.23 L400.59 87.05 L401.38 86.88 L402.17 86.71 L402.96 86.53 L403.75 86.36 L404.55 86.19" fill="none" stroke="#ff00ff" stroke-width="4.0" stroke-dasharray="1.225 1.838"/>
<path d="M404.55 86.19 L405.34 86.02 L406.13 85.85 L406.92 85.68 L407.71 85.51 L408.50 85.34 L409.29 85.18 L410.08 85.01 L410.87 84.84 L411.67 84.68 L412.46 84.51 L413.25 84.35 L414.04 84.18 L414.83 84.02 L415.62 83.86 L416.41 83.70 L417.20 83.53 L418.00 83.37 L418.79 83.21 L419.58 83.05 L420.37 82.89 L421.16 82.73 L421.95 82.58 L422.74 82.42 L423.53 82.26 L424.33 82.10 L425.12 81.95 L425.91 81.79 L426.70 81.64 L427.49 81.48 L428.28 81.33 L429.07 81.18 L429.86 81.02 L430.65 80.87 L431.45 80.72 L432.24 80.57 L433.03 80.42 L433.82 80.27 L434.61 80.12 L435.40 79.97 L436.19 79.82" fill="none" stroke="#ff00ff" stroke-width="4.0" stroke-dasharray="1.225 1.838"/>
<path d="M436.19 79.82 L436.98 79.67 L437.78 79.53 L438.57 79.38 L439.36 79.23 L440.15 79.09 L440.94 78.94 L441.73 78.80 L442.52 78.65 L443.31 78.51 L444.10 78.36 L444.90 78.22 L445.69 78.08 L446.48 77.94 L447.27 77.80 L448.06 77.65 L448.85 77.51 L449.64 77.37 L450.43 77.23 L451.23 77.10 L452.02 76.96 L452.81 76.82 L453.60 76.68 L454.39 76.54 L455.18 76.41 L455.97 76.27 L456.76 76.13 L457.55 76.00 L458.35 75.86 L459.14 75.73 L459.93 75.60 L460.72 75.46 L461.51 75.33 L462.30 75.20 L463.09 75.06 L463.88 74.93 L464.68 74.80 L465.47 74.67 L466.26 74.54 L467.05 74.41 L467.84 74.28" fill="none" stroke="#ff00ff" stroke-width="4.0" stroke-dasharray="1.225 1.838"/>
<path d="M467.84 74.28 L468.63 74.15 L469.42 74.02 L470.21 73.89 L471.00 73.77 L471.80 73.64 L472.59 73.51 L473.38 73.39 L474.17 73.26 L474.96 73.13 L475.75 73.01 L476.54 72.88 L477.33 72.76 L478.13 72.63 L478.92 72.51 L479.71 72.39 L480.50 72.26 L481.29 72.14 L482.08 72.02 L482.87 71.90 L483.66 71.78 L484.45 71.66 L485.25 71.54 L486.04 71.41 L486.83 71.30 L487.62 71.18 L488.41 71.06 L489.20 70.94 L489.99 70.82 L490.78 70.70 L491.58 70.58 L492.37 70.47 L493.16 70.35 L493.95 70.23 L494.74 70.12 L495.53 70.00 L496.32 69.89 L497.11 69.77 L497.90 69.66 L498.70 69.54 L499.49 69.43" fill="none" stroke="#ff00ff" stroke-width="4.0" stroke-dasharray="1.225 1.838"/>
<path d="M499.49 69.43 L500.28 69.32 L501.07 69.20 L501.86 69.09 L502.65 68.98 L503.44 68.87 L504.23 68.76 L505.03 68.65 L505.82 68.53 L506.61 68.42 L507.40 68.31 L508.19 68.20 L508.98 68.09 L509.77 67.99 L510.56 67.88 L511.35 67.77 L512.15 67.66 L512.94 67.55 L513.73 67.44 L514.52 67.34 L515.31 67.23 L516.10 67.12 L516.89 67.02 L517.68 66.91 L518.48 66.81 L519.27 66.70 L520.06 66.60 L520.85 66.49 L521.64 66.39 L522.43 66.28 L523.22 66.18 L524.01 66.08 L524.80 65.98 L525.60 65.87 L526.39 65.77 L527.18 65.67 L527.97 65.57 L528.76 65.47 L529.55 65.36 L530.34 65.26 L531.13 65.16" fill="none" stroke="#ff00ff" stroke-width="4.0" stroke-dasharray="1.225 1.838"/>
<path d="M531.13 65.16 L531.93 65.06 L532.72 64.96 L533.51 64.86 L534.30 64.77 L535.09 64.67 L535.88 64.57 L536.67 64.47 L537.46 64.37 L538.25 64.27 L539.05 64.18 L539.84 64.08 L540.63 63.98 L541.42 63.89 L542.21 63.79 L543.00 63.69 L543.79 63.60 L544.58 63.50 L545.38 63.41 L546.17 63.31 L546.96 63.22 L547.75 63.13 L548.54 63.03 L549.33 62.94 L550.12 62.84 L550.91 62.75 L551.71 62.66 L552.50 62.57 L553.29 62.47 L554.08 62.38 L554.87 62.29 L555.66 62.20 L556.45 62.11 L557.24 62.02 L558.03 61.93 L558.83 61.84 L559.62 61.75 L560.41 61.66 L561.20 61.57 L561.99 61.48 L562.78 61.39" fill="none" stroke="#ff00ff" stroke-width="4.0" stroke-dasharray="1.225 1.838"/>
<path d="M562.78 61.39 L563.57 61.30 L564.36 61.21 L565.16 61.12 L565.95 61.04 L566.74 60.95 L567.53 60.86 L568.32 60.77 L569.11 60.69 L569.90 60.60 L570.69 60.51 L571.48 60.43 L572.28 60.34 L573.07 60.25 L573.86 60.17 L574.65 60.08 L575.44 60.00 L576.23 59.91 L577.02 59.83 L577.81 59.75 L578.61 59.66 L579.40 59.58 L580.19 59.49 L580.98 59.41 L581.77 59.33 L582.56 59.25 L583.35 59.16 L584.14 59.08 L584.93 59.00 L585.73 58.92 L586.52 58.84 L587.31 58.75 L588.10 58.67 L588.89 58.59 L589.68 58.51 L590.47 58.43 L591.26 58.35 L592.06 58.27 L592.85 58.19 L593.64 58.11 L594.43 58.03" fill="none" stroke="#ff00ff" stroke-width="4.0" stroke-dasharray="1.225 1.838"/>
<path d="M594.43 58.03 L595.22 57.95 L596.01 57.87 L596.80 57.79 L597.59 57.72 L598.38 57.64 L599.18 57.56 L599.97 57.48 L600.76 57.40 L601.55 57.33 L602.34 57.25 L603.13 57.17 L603.92 57.10 L604.71 57.02 L605.51 56.94 L606.30 56.87 L607.09 56.79 L607.88 56.72 L608.67 56.64 L609.46 56.57 L610.25 56.49 L611.04 56.42 L611.83 56.34 L612.63 56.27 L613.42 56.19 L614.21 56.12 L615.00 56.04 L615.79 55.97 L616.58 55.90 L617.37 55.82 L618.16 55.75 L618.96 55.68 L619.75 55.61 L620.54 55.53 L621.33 55.46 L622.12 55.39 L622.91 55.32 L623.70 55.25 L624.49 55.17 L625.28 55.10 L626.08 55.03" fill="none" stroke="#ff00ff" stroke-width="4.0" stroke-dasharray="1.225 1.838"/>
<path d="M626.08 55.03 L626.87 54.96 L627.66 54.89 L628.45 54.82 L629.24 54.75 L630.03 54.68 L630.82 54.61 L631.61 54.54 L632.41 54.47 L633.20 54.40 L633.99 54.33 L634.78 54.26 L635.57 54.19 L636.36 54.13 L637.15 54.06 L637.94 53.99 L638.73 53.92 L639.53 53.85 L640.32 53.79 L641.11 53.72 L641.90 53.65 L642.69 53.58 L643.48 53.52 L644.27 53.45 L645.06 53.38 L645.86 53.32 L646.65 53.25 L647.44 53.18 L648.23 53.12 L649.02 53.05 L649.81 52.99 L650.60 52.92 L651.39 52.86 L652.18 52.79 L652.98 52.73 L653.77 52.66 L654.56 52.60 L655.35 52.53 L656.14 52.47 L656.93 52.40 L657.72 52.34" fill="none" stroke="#ff00ff" stroke-width="4.0" stroke-dasharray="1.225 1.838"/>
<path d="M657.72 52.34 L658.51 52.28 L659.31 52.21 L660.10 52.15 L660.89 52.09 L661.68 52.02 L662.47 51.96 L663.26 51.90 L664.05 51.84 L664.84 51.77 L665.63 51.71 L666.43 51.65 L667.22 51.59 L668.01 51.53 L668.80 51.46 L669.59 51.40 L670.38 51.34 L671.17 51.28 L671.96 51.22 L672.76 51.16 L673.55 51.10 L674.34 51.04 L675.13 50.98 L675.92 50.92 L676.71 50.86 L677.50 50.80 L678.29 50.74 L679.09 50.68 L679.88 50.62 L680.67 50.56 L681.46 50.50 L682.25 50.44 L683.04 50.38 L683.83 50.32 L684.62 50.26 L685.41 50.21 L686.21 50.15 L687.00 50.09 L687.79 50.03 L688.58 49.97 L689.37 49.92" fill="none" stroke="#ff00ff" stroke-width="4.0" stroke-dasharray="1.225 1.838"/>
<path d="M689.37 49.92 L690.23 49.85 L691.09 49.79 L691.96 49.73 L692.82 49.67 L693.68 49.60 L694.54 49.54 L695.41 49.48 L696.27 49.42 L697.13 49.36" fill="none" stroke="#ff00ff" stroke-width="4.0" stroke-dasharray="1.225 1.838"/>
<path d="M88.07 499.16 L88.86 495.05 L89.66 490.99 L90.45 486.98 L91.24 483.03 L92.03 479.12 L92.82 475.26 L93.61 471.46 L94.40 467.70 L95.19 463.98 L95.99 460.32 L96.78 456.70 L97.57 453.12 L98.36 449.59 L99.15 446.10 L99.94 442.66 L100.73 439.26 L101.52 435.90 L102.31 432.58 L103.11 429.30 L103.90 426.06 L104.69 422.86 L105.48 419.70 L106.27 416.58 L107.06 413.49 L107.85 410.44 L108.64 407.43 L109.44 404.46 L110.23 401.51 L111.02 398.61 L111.81 395.74 L112.60 392.90 L113.39 390.09 L114.18 387.32 L114.97 384.58 L115.76 381.87 L116.56 379.19 L117.35 376.55 L118.14 373.93 L118.93 371.35 L119.72 368.79" fill="none" stroke="#000000" stroke-width="4.0" stroke-dasharray="2.8 2.1 2.8 7.0"/>
<path d="M119.72 368.79 L120.51 366.26 L121.30 363.76 L122.09 361.29 L122.89 358.85 L123.68 356.44 L124.47 354.05 L125.26 351.69 L126.05 349.35 L126.84 347.04 L127.63 344.76 L128.42 342.50 L129.21 340.27 L130.01 338.06 L130.80 335.87 L131.59 333.71 L132.38 331.57 L133.17 329.46 L133.96 327.36 L134.75 325.29 L135.54 323.25 L136.34 321.22 L137.13 319.22 L137.92 317.23 L138.71 315.27 L139.50 313.33 L140.29 311.41 L141.08 309.51 L141.87 307.63 L142.66 305.76 L143.46 303.92 L144.25 302.10 L145.04 300.29 L145.83 298.51 L146.62 296.74 L147.41 294.99 L148.20 293.26 L148.99 291.54 L149.79 289.85 L150.58 288.16 L151.37 286.50" fill="none" stroke="#000000" stroke-width="4.0" stroke-dasharray="2.8 2.1 2.8 7.0"/>
<path d="M151.37 286.50 L152.16 284.85 L152.95 283.22 L153.74 281.61 L154.53 280.01 L155.32 278.43 L156.12 276.86 L156.91 275.31 L157.70 273.77 L158.49 272.25 L159.28 270.74 L160.07 269.25 L160.86 267.77 L161.65 266.31 L162.44 264.86 L163.24 263.42 L164.03 262.00 L164.82 260.59 L165.61 259.19 L166.40 257.81 L167.19 256.44 L167.98 255.08 L168.77 253.74 L169.57 252.40 L170.36 251.08 L171.15 249.78 L171.94 248.48 L172.73 247.20 L173.52 245.92 L174.31 244.66 L175.10 243.41 L175.89 242.17 L176.69 240.95 L177.48 239.73 L178.27 238.53 L179.06 237.33 L179.85 236.15 L180.64 234.97 L181.43 233.81 L182.22 232.66 L183.02 231.51" fill="none" stroke="#000000" stroke-width="4.0" stroke-dasharray="2.8 2.1 2.8 7.0"/>
<path d="M183.02 231.51 L183.81 230.38 L184.60 229.26 L185.39 228.15 L186.18 227.04 L186.97 225.95 L187.76 224.86 L188.55 223.79 L189.34 222.72 L190.14 221.66 L190.93 220.61 L191.72 219.57 L192.51 218.54 L193.30 217.52 L194.09 216.51 L194.88 215.50 L195.67 214.51 L196.47 213.52 L197.26 212.54 L198.05 211.56 L198.84 210.60 L199.63 209.64 L200.42 208.69 L201.21 207.75 L202.00 206.82 L202.79 205.89 L203.59 204.97 L204.38 204.06 L205.17 203.16 L205.96 202.26 L206.75 201.37 L207.54 200.49 L208.33 199.61 L209.12 198.74 L209.92 197.88 L210.71 197.03 L211.50 196.18 L212.29 195.34 L213.08 194.50 L213.87 193.67 L214.66 192.85" fill="none" stroke="#000000" stroke-width="4.0" stroke-dasharray="2.8 2.1 2.8 7.0"/>
<path d="M214.66 192.85 L215.45 192.03 L216.24 191.22 L217.04 190.42 L217.83 189.62 L218.62 188.83 L219.41 188.04 L220.20 187.26 L220.99 186.48 L221.78 185.72 L222.57 184.95 L223.37 184.20 L224.16 183.44 L224.95 182.70 L225.74 181.96 L226.53 181.22 L227.32 180.49 L228.11 179.77 L228.90 179.05 L229.69 178.33 L230.49 177.63 L231.28 176.92 L232.07 176.22 L232.86 175.53 L233.65 174.84 L234.44 174.16 L235.23 173.48 L236.02 172.80 L236.82 172.13 L237.61 171.47 L238.40 170.81 L239.19 170.15 L239.98 169.50 L240.77 168.85 L241.56 168.21 L242.35 167.57 L243.14 166.94 L243.94 166.31 L244.73 165.69 L245.52 165.07 L246.31 164.45" fill="none" stroke="#000000" stroke-width="4.0" stroke-dasharray="2.8 2.1 2.8 7.0"/>
<path d="M246.31 164.45 L247.10 163.84 L247.89 163.23 L248.68 162.63 L249.47 162.03 L250.27 161.43 L251.06 160.84 L251.85 160.25 L252.64 159.67 L253.43 159.09 L254.22 158.51 L255.01 157.94 L255.80 157.37 L256.59 156.81 L257.39 156.25 L258.18 155.69 L258.97 155.13 L259.76 154.58 L260.55 154.04 L261.34 153.49 L262.13 152.95 L262.92 152.42 L263.72 151.88 L264.51 151.36 L265.30 150.83 L266.09 150.31 L266.88 149.79 L267.67 149.27 L268.46 148.76 L269.25 148.25 L270.04 147.74 L270.84 147.24 L271.63 146.74 L272.42 146.24 L273.21 145.75 L274.00 145.26 L274.79 144.77 L275.58 144.28 L276.37 143.80 L277.17 143.32 L277.96 142.85" fill="none" stroke="#000000" stroke-width="4.0" stroke-dasharray="2.8 2.1 2.8 7.0"/>
<path d="M277.96 142.85 L278.75 142.37 L279.54 141.90 L280.33 141.43 L281.12 140.97 L281.91 140.51 L282.70 140.05 L283.50 139.59 L284.29 139.14 L285.08 138.69 L285.87 138.24 L286.66 137.79 L287.45 137.35 L288.24 136.91 L289.03 136.47 L289.82 136.04 L290.62 135.60 L291.41 135.17 L292.20 134.75 L292.99 134.32 L293.78 133.90 L294.57 133.48 L295.36 133.06 L296.15 132.65 L296.95 132.23 L297.74 131.82 L298.53 131.41 L299.32 131.01 L300.11 130.60 L300.90 130.20 L301.69 129.80 L302.48 129.41 L303.27 129.01 L304.07 128.62 L304.86 128.23 L305.65 127.84 L306.44 127.46 L307.23 127.07 L308.02 126.69 L308.81 126.31 L309.60 125.93" fill="none" stroke="#000000" stroke-width="4.0" stroke-dasharray="2.8 2.1 2.8 7.0"/>
<path d="M309.60 125.93 L310.40 125.56 L311.19 125.18 L311.98 124.81 L312.77 124.44 L313.56 124.08 L314.35 123.71 L315.14 123.35 L315.93 122.99 L316.72 122.63 L317.52 122.27 L318.31 121.92 L319.10 121.56 L319.89 121.21 L320.68 120.86 L321.47 120.51 L322.26 120.17 L323.05 119.82 L323.85 119.48 L324.64 119.14 L325.43 118.80 L326.22 118.47 L327.01 118.13 L327.80 117.80 L328.59 117.47 L329.38 117.14 L330.17 116.81 L330.97 116.48 L331.76 116.16 L332.55 115.83 L333.34 115.51 L334.13 115.19 L334.92 114.87 L335.71 114.56 L336.50 114.24 L337.30 113.93 L338.09 113.62 L338.88 113.31 L339.67 113.00 L340.46 112.69 L341.25 112.39" fill="none" stroke="#000000" stroke-width="4.0" stroke-dasharray="2.8 2.1 2.8 7.0"/>
<path d="M341.25 112.39 L342.04 112.08 L342.83 111.78 L343.62 111.48 L344.42 111.18 L345.21 110.88 L346.00 110.59 L346.79 110.29 L347.58 110.00 L348.37 109.71 L349.16 109.42 L349.95 109.13 L350.75 108.84 L351.54 108.56 L352.33 108.27 L353.12 107.99 L353.91 107.71 L354.70 107.43 L355.49 107.15 L356.28 106.87 L357.07 106.59 L357.87 106.32 L358.66 106.04 L359.45 105.77 L360.24 105.50 L361.03 105.23 L361.82 104.96 L362.61 104.69 L363.40 104.43 L364.20 104.16 L364.99 103.90 L365.78 103.64 L366.57 103.38 L367.36 103.12 L368.15 102.86 L368.94 102.60 L369.73 102.35 L370.52 102.09 L371.32 101.84 L372.11 101.59 L372.90 101.34" fill="none" stroke="#000000" stroke-width="4.0" stroke-dasharray="2.8 2.1 2.8 7.0"/>
<path d="M372.90 101.34 L373.69 101.09 L374.48 100.84 L375.27 100.59 L376.06 100.34 L376.85 100.10 L377.65 99.85 L378.44 99.61 L379.23 99.37 L380.02 99.13 L380.81 98.89 L381.60 98.65 L382.39 98.41 L383.18 98.17 L383.97 97.94 L384.77 97.71 L385.56 97.47 L386.35 97.24 L387.14 97.01 L387.93 96.78 L388.72 96.55 L389.51 96.32 L390.30 96.09 L391.10 95.87 L391.89 95.64 L392.68 95.42 L393.47 95.20 L394.26 94.97 L395.05 94.75 L395.84 94.53 L396.63 94.31 L397.42 94.10 L398.22 93.88 L399.01 93.66 L399.80 93.45 L400.59 93.23 L401.38 93.02 L402.17 92.81 L402.96 92.60 L403.75 92.39 L404.55 92.18" fill="none" stroke="#000000" stroke-width="4.0" stroke-dasharray="2.8 2.1 2.8 7.0"/>
<path d="M404.55 92.18 L405.34 91.97 L406.13 91.76 L406.92 91.55 L407.71 91.35 L408.50 91.14 L409.29 90.94 L410.08 90.74 L410.87 90.53 L411.67 90.33 L412.46 90.13 L413.25 89.93 L414.04 89.73 L414.83 89.53 L415.62 89.34 L416.41 89.14 L417.20 88.95 L418.00 88.75 L418.79 88.56 L419.58 88.36 L420.37 88.17 L421.16 87.98 L421.95 87.79 L422.74 87.60 L423.53 87.41 L424.33 87.22 L425.12 87.03 L425.91 86.85 L426.70 86.66 L427.49 86.48 L428.28 86.29 L429.07 86.11 L429.86 85.93 L430.65 85.74 L431.45 85.56 L432.24 85.38 L433.03 85.20 L433.82 85.02 L434.61 84.84 L435.40 84.67 L436.19 84.49" fill="none" stroke="#000000" stroke-width="4.0" stroke-dasharray="2.8 2.1 2.8 7.0"/>
<path d="M436.19 84.49 L436.98 84.31 L437.78 84.14 L438.57 83.96 L439.36 83.79 L440.15 83.62 L440.94 83.44 L441.73 83.27 L442.52 83.10 L443.31 82.93 L444.10 82.76 L444.90 82.59 L445.69 82.42 L446.48 82.25 L447.27 82.09 L448.06 81.92 L448.85 81.75 L449.64 81.59 L450.43 81.42 L451.23 81.26 L452.02 81.10 L452.81 80.93 L453.60 80.77 L454.39 80.61 L455.18 80.45 L455.97 80.29 L456.76 80.13 L457.55 79.97 L458.35 79.81 L459.14 79.66 L459.93 79.50 L460.72 79.34 L461.51 79.19 L462.30 79.03 L463.09 78.88 L463.88 78.72 L464.68 78.57 L465.47 78.42 L466.26 78.27 L467.05 78.11 L467.84 77.96" fill="none" stroke="#000000" stroke-width="4.0" stroke-dasharray="2.8 2.1 2.8 7.0"/>
<path d="M467.84 77.96 L468.63 77.81 L469.42 77.66 L470.21 77.51 L471.00 77.37 L471.80 77.22 L472.59 77.07 L473.38 76.92 L474.17 76.78 L474.96 76.63 L475.75 76.48 L476.54 76.34 L477.33 76.20 L478.13 76.05 L478.92 75.91 L479.71 75.77 L480.50 75.62 L481.29 75.48 L482.08 75.34 L482.87 75.20 L483.66 75.06 L484.45 74.92 L485.25 74.78 L486.04 74.64 L486.83 74.51 L487.62 74.37 L488.41 74.23 L489.20 74.10 L489.99 73.96 L490.78 73.82 L491.58 73.69 L492.37 73.56 L493.16 73.42 L493.95 73.29 L494.74 73.15 L495.53 73.02 L496.32 72.89 L497.11 72.76 L497.90 72.63 L498.70 72.50 L499.49 72.37" fill="none" stroke="#000000" stroke-width="4.0" stroke-dasharray="2.8 2.1 2.8 7.0"/>
<path d="M499.49 72.37 L500.28 72.24 L501.07 72.11 L501.86 71.98 L502.65 71.85 L503.44 71.72 L504.23 71.60 L505.03 71.47 L505.82 71.34 L506.61 71.22 L507.40 71.09 L508.19 70.97 L508.98 70.84 L509.77 70.72 L510.56 70.60 L511.35 70.47 L512.15 70.35 L512.94 70.23 L513.73 70.10 L514.52 69.98 L515.31 69.86 L516.10 69.74 L516.89 69.62 L517.68 69.50 L518.48 69.38 L519.27 69.26 L520.06 69.14 L520.85 69.03 L521.64 68.91 L522.43 68.79 L523.22 68.67 L524.01 68.56 L524.80 68.44 L525.60 68.33 L526.39 68.21 L527.18 68.10 L527.97 67.98 L528.76 67.87 L529.55 67.75 L530.34 67.64 L531.13 67.53" fill="none" stroke="#000000" stroke-width="4.0" stroke-dasharray="2.8 2.1 2.8 7.0"/>
<path d="M531.13 67.53 L531.93 67.41 L532.72 67.30 L533.51 67.19 L534.30 67.08 L535.09 66.97 L535.88 66.86 L536.67 66.75 L537.46 66.64 L538.25 66.53 L539.05 66.42 L539.84 66.31 L540.63 66.20 L541.42 66.09 L542.21 65.99 L543.00 65.88 L543.79 65.77 L544.58 65.66 L545.38 65.56 L546.17 65.45 L546.96 65.35 L547.75 65.24 L548.54 65.14 L549.33 65.03 L550.12 64.93 L550.91 64.82 L551.71 64.72 L552.50 64.62 L553.29 64.52 L554.08 64.41 L554.87 64.31 L555.66 64.21 L556.45 64.11 L557.24 64.01 L558.03 63.91 L558.83 63.80 L559.62 63.70 L560.41 63.60 L561.20 63.51 L561.99 63.41 L562.78 63.31" fill="none" stroke="#000000" stroke-width="4.0" stroke-dasharray="2.8 2.1 2.8 7.0"/>
<path d="M562.78 63.31 L563.57 63.21 L564.36 63.11 L565.16 63.01 L565.95 62.92 L566.74 62.82 L567.53 62.72 L568.32 62.62 L569.11 62.53 L569.90 62.43 L570.69 62.34 L571.48 62.24 L572.28 62.15 L573.07 62.05 L573.86 61.96 L574.65 61.86 L575.44 61.77 L576.23 61.68 L577.02 61.58 L577.81 61.49 L578.61 61.40 L579.40 61.30 L580.19 61.21 L580.98 61.12 L581.77 61.03 L582.56 60.94 L583.35 60.85 L584.14 60.76 L584.93 60.67 L585.73 60.58 L586.52 60.49 L587.31 60.40 L588.10 60.31 L588.89 60.22 L589.68 60.13 L590.47 60.04 L591.26 59.95 L592.06 59.86 L592.85 59.78 L593.64 59.69 L594.43 59.60" fill="none" stroke="#000000" stroke-width="4.0" stroke-dasharray="2.8 2.1 2.8 7.0"/>
<path d="M594.43 59.60 L595.22 59.52 L596.01 59.43 L596.80 59.34 L597.59 59.26 L598.38 59.17 L599.18 59.09 L599.97 59.00 L600.76 58.92 L601.55 58.83 L602.34 58.75 L603.13 58.66 L603.92 58.58 L604.71 58.49 L605.51 58.41 L606.30 58.33 L607.09 58.24 L607.88 58.16 L608.67 58.08 L609.46 58.00 L610.25 57.92 L611.04 57.83 L611.83 57.75 L612.63 57.67 L613.42 57.59 L614.21 57.51 L615.00 57.43 L615.79 57.35 L616.58 57.27 L617.37 57.19 L618.16 57.11 L618.96 57.03 L619.75 56.95 L620.54 56.87 L621.33 56.79 L622.12 56.72 L622.91 56.64 L623.70 56.56 L624.49 56.48 L625.28 56.40 L626.08 56.33" fill="none" stroke="#000000" stroke-width="4.0" stroke-dasharray="2.8 2.1 2.8 7.0"/>
<path d="M626.08 56.33 L626.87 56.25 L627.66 56.17 L628.45 56.10 L629.24 56.02 L630.03 55.95 L630.82 55.87 L631.61 55.79 L632.41 55.72 L633.20 55.64 L633.99 55.57 L634.78 55.49 L635.57 55.42 L636.36 55.34 L637.15 55.27 L637.94 55.20 L638.73 55.12 L639.53 55.05 L640.32 54.98 L641.11 54.90 L641.90 54.83 L642.69 54.76 L643.48 54.69 L644.27 54.61 L645.06 54.54 L645.86 54.47 L646.65 54.40 L647.44 54.33 L648.23 54.25 L649.02 54.18 L649.81 54.11 L650.60 54.04 L651.39 53.97 L652.18 53.90 L652.98 53.83 L653.77 53.76 L654.56 53.69 L655.35 53.62 L656.14 53.55 L656.93 53.49 L657.72 53.42" fill="none" stroke="#000000" stroke-width="4.0" stroke-dasharray="2.8 2.1 2.8 7.0"/>
<path d="M657.72 53.42 L658.51 53.35 L659.31 53.28 L660.10 53.21 L660.89 53.14 L661.68 53.07 L662.47 53.01 L663.26 52.94 L664.05 52.87 L664.84 52.81 L665.63 52.74 L666.43 52.67 L667.22 52.61 L668.01 52.54 L668.80 52.47 L669.59 52.41 L670.38 52.34 L671.17 52.28 L671.96 52.21 L672.76 52.14 L673.55 52.08 L674.34 52.01 L675.13 51.95 L675.92 51.88 L676.71 51.82 L677.50 51.76 L678.29 51.69 L679.09 51.63 L679.88 51.56 L680.67 51.50 L681.46 51.44 L682.25 51.37 L683.04 51.31 L683.83 51.25 L684.62 51.19 L685.41 51.12 L686.21 51.06 L687.00 51.00 L687.79 50.94 L688.58 50.88 L689.37 50.81" fill="none" stroke="#000000" stroke-width="4.0" stroke-dasharray="2.8 2.1 2.8 7.0"/>
<path d="M689.37 50.81 L690.23 50.75 L691.09 50.68 L691.96 50.61 L692.82 50.55 L693.68 50.48 L694.54 50.41 L695.41 50.35 L696.27 50.28 L697.13 50.22" fill="none" stroke="#000000" stroke-width="4.0" stroke-dasharray="2.8 2.1 2.8 7.0"/>
<path d="M119.00 143.60V152.80 M115.10 143.60H122.90 M115.10 152.80H122.90 M115.10 148.20H122.90 M301.55 92.10V101.20 M297.65 92.10H305.45 M297.65 101.20H305.45 M297.65 96.65H305.45 M484.00 58.60V67.60 M480.10 58.60H487.90 M480.10 67.60H487.90 M480.10 63.10H487.90 M666.65 47.15V56.45 M662.75 47.15H670.55 M662.75 56.45H670.55 M662.75 51.80H670.55" fill="none" stroke="#000" stroke-width="1.8"/>
<path d="M210.25 567.4v-7.5 M210.25 6.9v7.5 M362.40 567.4v-7.5 M362.40 6.9v7.5 M514.55 567.4v-7.5 M514.55 6.9v7.5 M666.70 567.4v-7.5 M666.70 6.9v7.5 M58.1 119.00h7.5 M818.85 119.00h-7.5 M58.1 231.10h7.5 M818.85 231.10h-7.5 M58.1 343.20h7.5 M818.85 343.20h-7.5 M58.1 455.30h7.5 M818.85 455.30h-7.5" fill="none" stroke="#000" stroke-width="1.35"/>
<rect x="58.1" y="6.9" width="760.75" height="560.50" fill="none" stroke="#000" stroke-width="1.55"/>
<g font-family="Liberation Sans, sans-serif" font-size="17px" fill="#000" style="will-change:transform"><text x="47.5" y="12.90" text-anchor="end">0</text>
<text x="47.5" y="125.00" text-anchor="end">-0.005</text>
<text x="47.5" y="237.10" text-anchor="end">-0.01</text>
<text x="47.5" y="349.20" text-anchor="end">-0.015</text>
<text x="47.5" y="461.30" text-anchor="end">-0.02</text>
<text x="47.5" y="573.40" text-anchor="end">-0.025</text>
<text x="60.10" y="590.7" text-anchor="middle">10</text>
<text x="212.25" y="590.7" text-anchor="middle">15</text>
<text x="364.40" y="590.7" text-anchor="middle">20</text>
<text x="516.55" y="590.7" text-anchor="middle">25</text>
<text x="668.70" y="590.7" text-anchor="middle">30</text>
<text x="820.85" y="590.7" text-anchor="middle">35</text>
<text x="739.6" y="488.20" text-anchor="end" font-size="17.1px">one loop correction</text>
<text x="739.6" y="505.50" text-anchor="end" font-size="17.1px">two loop correction</text>
<text x="739.6" y="522.00" text-anchor="end" font-size="17.1px">three loop correction</text>
<text x="739.6" y="539.10" text-anchor="end" font-size="17.1px">full Nambu-Goto</text>
<text x="739.6" y="556.30" text-anchor="end" font-size="17.1px">numerical data</text></g>
<path d="M749.5 483.0H798.7" stroke="#ff0000" stroke-width="4" fill="none"/>
<path d="M749.5 500.0H798.7" stroke="#00ff00" stroke-width="4" fill="none" stroke-dasharray="5.2 2.15"/>
<path d="M749.5 517.1H797.3" stroke="#ff00ff" stroke-width="4" fill="none" stroke-dasharray="1.225 1.838"/>
<path d="M749.5 534.2H796.6" stroke="#000" stroke-width="4" fill="none" stroke-dasharray="2.8 2.1 2.8 7.0"/>
<path d="M749.4 551.3H756.9 M759.0 551.3H760.9 M762.9 551.3H783.8 M785.9 551.3H787.7 M790.1 551.3H798.7 M750.3 547.5v7.6 M797.9000000000001 547.5v7.6 M773.9 547.4v7.8" stroke="#000" stroke-width="1.9" fill="none"/>
</svg></body></html>
